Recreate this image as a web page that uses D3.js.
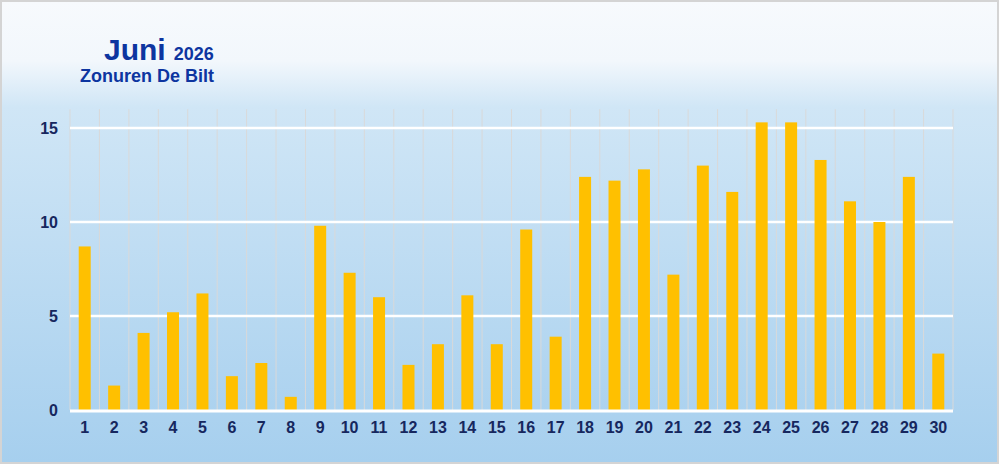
<!DOCTYPE html>
<html><head><meta charset="utf-8">
<script src="https://cdn.jsdelivr.net/npm/d3@7"></script>
<style>html,body{margin:0;padding:0;background:#fff;}svg{display:block;font-family:"Liberation Sans",Arial,sans-serif;}</style>
</head><body>
<script>
const days = d3.range(1, 31).map(String);
const hours = [8.7,1.3,4.1,5.2,6.2,1.8,2.5,0.7,9.8,7.3,6.0,2.4,3.5,6.1,3.5,9.6,3.9,12.4,12.2,12.8,7.2,13.0,11.6,15.3,15.3,13.3,11.1,10.0,12.4,3.0];
const yTicks = [0,5,10,15];
const titleMain = "Juni", titleYear = "2026", subtitle = "Zonuren De Bilt";

const W = 1000, H = 466;
const svg = d3.select("body").append("svg").attr("width", W).attr("height", H);
const defs = svg.append("defs");
const g = defs.append("linearGradient").attr("id","bg").attr("x1",0).attr("y1",0).attr("x2",0).attr("y2",1);
[[0,"#f7fafd"],[0.13,"#f2f7fc"],[0.23,"#d0e6f6"],[1,"#a6cfee"]].forEach(([o,c])=>g.append("stop").attr("offset",o).attr("stop-color",c));
svg.append("rect").attr("x",1).attr("y",1).attr("width",997).attr("height",462).attr("fill","url(#bg)").attr("stroke","#d4d4d4").attr("stroke-width",2);

const x = d3.scaleBand().domain(days).range([70, 953]).paddingInner(0).paddingOuter(0);
const y = d3.scaleLinear().domain([0,16]).range([410, 109.2]);

// vertical grid lines at band boundaries
const bounds = days.map(d=>x(d)).concat([x.range()[1]]);
svg.append("g").selectAll("line").data(bounds).join("line")
  .attr("x1",d=>d).attr("x2",d=>d).attr("y1",y(16)).attr("y2",y(0))
  .attr("stroke","#d9d9d9").attr("stroke-width",1);

// horizontal grid lines
svg.append("g").selectAll("line").data(yTicks.filter(v=>v>0)).join("line")
  .attr("x1",70).attr("x2",953).attr("y1",d=>y(d)).attr("y2",d=>y(d))
  .attr("stroke","#ffffff").attr("stroke-width",2.5);

// bars
const bw = 12;
svg.append("g").selectAll("rect").data(hours).join("rect")
  .attr("x",(d,i)=>x(days[i]) + x.bandwidth()/2 - bw/2)
  .attr("width",bw)
  .attr("y",d=>y(d)).attr("height",d=>y(0)-y(d))
  .attr("fill","#ffc000");

// zero line
svg.append("line").attr("x1",70).attr("x2",953).attr("y1",y(0)+1).attr("y2",y(0)+1)
  .attr("stroke","#ffffff").attr("stroke-width",3);

// y axis
const yAxis = svg.append("g").attr("transform","translate(58,0)")
  .call(d3.axisLeft(y).tickValues(yTicks).tickSize(0).tickPadding(0));
yAxis.select(".domain").remove();
yAxis.selectAll("text").attr("fill","#16275e").attr("font-size",16).attr("font-weight","bold")
  .attr("font-family","Liberation Sans, Arial, sans-serif");

// x axis
const xAxis = svg.append("g").attr("transform",`translate(0,${y(0)+12})`)
  .call(d3.axisBottom(x).tickSize(0).tickPadding(0));
xAxis.select(".domain").remove();
xAxis.selectAll("text").attr("fill","#16275e").attr("font-size",16).attr("font-weight","bold")
  .attr("font-family","Liberation Sans, Arial, sans-serif");

// titles
const t = svg.append("text").attr("x",104).attr("y",60).attr("fill","#0d35a0")
  .attr("font-weight","bold");
t.append("tspan").attr("font-size",30).text(titleMain);
t.append("tspan").attr("font-size",18).attr("dx",8).text(titleYear);
svg.append("text").attr("x",80).attr("y",81.5).attr("fill","#0d35a0").attr("font-weight","bold")
  .attr("font-size",18).text(subtitle);
</script>
</body></html>
